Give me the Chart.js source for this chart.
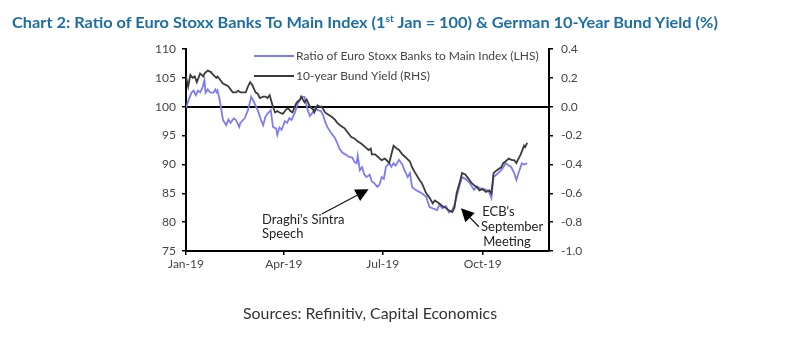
<!DOCTYPE html>
<html>
<head>
<meta charset="utf-8">
<script src="https://cdn.jsdelivr.net/npm/chart.js@4/dist/chart.umd.min.js"></script>
<style>
  html, body { margin: 0; padding: 0; background: #fff; width: 792px; height: 339px; overflow: hidden; }
  #wrap { position: absolute; left: 0; top: 0; width: 792px; height: 339px; }
  #title { position: absolute; left: 12px; top: 12px; font-family: Lato, "Open Sans", sans-serif; font-weight: 700;
           font-size: 16px; line-height: 20px; color: #1d6fa3; white-space: nowrap; transform-origin: 0 0; }
  #title sup { font-size: 10px; line-height: 0; vertical-align: 6px; }
  #src { position: absolute; left: 243px; top: 303px; font-family: Lato, "Open Sans", sans-serif; font-size: 15px;
         line-height: 20px; color: #333; white-space: nowrap; transform-origin: 0 0; }
</style>
</head>
<body>
<div id="wrap"><canvas id="c" width="792" height="339"></canvas></div>
<div id="title">Chart 2: Ratio of Euro Stoxx Banks To Main Index (1<sup>st</sup> Jan = 100) &amp; German 10-Year Bund Yield (%)</div>
<div id="src">Sources: Refinitiv, Capital Economics</div>
<script>
// Days since 1 Jan 2019 and the ratio of Euro Stoxx Banks to the main index (1st Jan = 100)
const bankDays = [0,3,5,7,9,11,13,15,17,18,20,22,25,27,28,29,31,34,37,39,41,44,46,49,50,54,57,60,61,63,66,69,71,73,75,78,80,83,84,86,88,91,93,95,97,100,103,105,106,109,112,114,117,119,121,124,126,128,130,133,137,139,141,144,147,150,153,155,157,158,160,162,164,166,169,171,173,176,178,180,182,184,187,189,191,193,196,199,201,204,206,208,211,215,217,221,224,227,231,233,236,239,242,245,247,249,252,254,257,261,263,265,268,270,273,276,279,281,283,286,290,292,294,297,299,302,304,306,309,311,314];
const bankRatio = [99.8,101.5,102.4,102.8,102,102.8,102.5,103.2,104.6,102.4,103,102.5,102.4,103,102.5,102.8,101.2,97.7,96.8,97.8,97.2,98,97.7,96.5,97.2,98,99.4,101.7,101.4,100.6,99.4,97.7,96.8,98.2,98.8,99.4,96.5,96.2,95.1,96.4,96,97.5,97.2,98,97.7,98.9,100.6,101.2,101.7,101.7,99.4,98.4,99.1,99.8,99.4,99.3,98.6,97.4,96.5,95.6,94.6,93.8,92.8,92,91.7,91.3,91.2,90.4,90.2,91.5,89,89.5,88.3,87.8,88.2,87,86.8,86.1,86.5,87.8,87.5,89.6,90.2,89.6,90.2,89.8,90.8,90,89,87.8,88.5,86.1,85.6,85.2,85,84.4,82.6,82.4,82.1,83,82.4,82.8,81.7,82.1,83,84.4,86.5,87.8,87.5,86.8,86.2,85.6,86.2,85.9,85.8,85.6,85.2,84.2,87.8,88.3,89,89.5,90.2,89.8,89.6,88.5,87.3,88.5,90.2,90,90.2];

// Days since 1 Jan 2019 and the German 10-year Bund yield (%)
const bundDays = [0,2,4,6,8,10,13,16,17,20,23,25,28,29,31,34,37,39,41,43,46,48,50,53,55,57,59,61,64,66,68,71,73,75,77,80,82,84,86,89,92,94,96,98,100,102,105,106,109,111,114,117,118,121,123,125,128,130,134,137,139,142,146,149,152,155,158,160,162,165,168,170,171,174,177,180,183,187,189,191,194,196,199,202,206,208,211,215,217,221,224,227,229,233,236,239,242,245,247,249,252,254,257,259,262,263,266,268,270,273,276,279,281,283,286,290,292,294,297,300,302,304,306,308,311,312,314];
const bundYield = [0.21,0.14,0.22,0.20,0.21,0.17,0.23,0.21,0.23,0.25,0.24,0.22,0.20,0.21,0.19,0.16,0.15,0.14,0.12,0.10,0.10,0.11,0.10,0.10,0.10,0.14,0.17,0.15,0.10,0.09,0.06,0.07,0.07,0.06,0.08,0.0,-0.04,-0.03,-0.04,-0.05,-0.02,-0.01,-0.03,-0.04,0.0,0.03,0.05,0.07,0.03,0.05,0.0,-0.02,-0.04,0.01,0.0,0.0,-0.04,-0.05,-0.07,-0.09,-0.11,-0.13,-0.15,-0.18,-0.21,-0.22,-0.24,-0.25,-0.26,-0.28,-0.30,-0.29,-0.33,-0.33,-0.35,-0.37,-0.36,-0.39,-0.33,-0.27,-0.29,-0.30,-0.33,-0.35,-0.38,-0.42,-0.46,-0.51,-0.53,-0.60,-0.63,-0.67,-0.65,-0.67,-0.69,-0.70,-0.72,-0.73,-0.70,-0.60,-0.52,-0.46,-0.47,-0.49,-0.52,-0.53,-0.55,-0.56,-0.58,-0.57,-0.59,-0.58,-0.60,-0.46,-0.44,-0.42,-0.39,-0.38,-0.36,-0.37,-0.37,-0.39,-0.36,-0.33,-0.27,-0.28,-0.25];

// Axis ticks
const monthTicks = [0, 90, 181, 273];
const monthLabels = ['Jan-19', 'Apr-19', 'Jul-19', 'Oct-19'];
const leftTicks = [75, 80, 85, 90, 95, 100, 105, 110];
const rightTicks = [-1.0, -0.8, -0.6, -0.4, -0.2, 0.0, 0.2, 0.4];

const seriesNames = ['Ratio of Euro Stoxx Banks to Main Index (LHS)', '10-year Bund Yield (RHS)'];
const BLUE = '#7d7cf2';
const DARK = '#3b3b3b';
const FONT = 'Lato, "Open Sans", sans-serif';

// Fit the title and source lines to their measured widths
function fitWidth(id, w) {
  const el = document.getElementById(id);
  el.style.transform = 'scaleX(' + (w / el.getBoundingClientRect().width) + ')';
}
fitWidth('title', 706);
fitWidth('src', 254);

const toPoints = (xs, ys) => xs.map((x, i) => ({ x: x, y: ys[i] }));

// Zero line, legend and call-out annotations
const extras = {
  id: 'extras',
  beforeDatasetsDraw(chart) {
    const { ctx, chartArea: a, scales } = chart;
    const y = Math.round(scales.yL.getPixelForValue(100));
    ctx.save();
    ctx.strokeStyle = '#000';
    ctx.lineWidth = 2;
    ctx.beginPath(); ctx.moveTo(a.left, y); ctx.lineTo(a.right, y); ctx.stroke();
    ctx.restore();
  },
  afterDraw(chart) {
    const { ctx, chartArea: a, scales } = chart;
    const X = v => scales.x.getPixelForValue(v);
    const Y = v => scales.yL.getPixelForValue(v);
    ctx.save();
    // legend
    const lx = a.left + 68;
    [[BLUE, seriesNames[0], a.top + 7], [DARK, seriesNames[1], a.top + 27]].forEach(([col, txt, ly]) => {
      ctx.strokeStyle = col; ctx.lineWidth = 2;
      ctx.beginPath(); ctx.moveTo(lx, ly); ctx.lineTo(lx + 40, ly); ctx.stroke();
      ctx.fillStyle = '#444'; ctx.font = '12px ' + FONT; ctx.textBaseline = 'middle'; ctx.textAlign = 'left';
      ctx.fillText(txt, lx + 42, ly);
    });
    // call-outs
    ctx.fillStyle = '#222'; ctx.font = '13px ' + FONT; ctx.textBaseline = 'middle';
    ctx.fillText("Draghi's Sintra", X(70), Y(80.4));
    ctx.fillText('Speech', X(70), Y(77.9));
    ctx.fillText("ECB's", X(272.5), Y(81.75));
    ctx.fillText('September', X(271.5), Y(79.15));
    ctx.fillText('Meeting', X(273.5), Y(76.55));
    const arrow = (x0, y0, x1, y1) => {
      const ang = Math.atan2(y1 - y0, x1 - x0), L = 13, W = 6.5;
      const bx = x1 - L * Math.cos(ang), by = y1 - L * Math.sin(ang);
      ctx.strokeStyle = '#111'; ctx.lineWidth = 1.2;
      ctx.beginPath(); ctx.moveTo(x0, y0); ctx.lineTo(bx, by); ctx.stroke();
      ctx.fillStyle = '#000';
      ctx.beginPath();
      ctx.moveTo(x1, y1);
      ctx.lineTo(bx + W * Math.sin(ang), by - W * Math.cos(ang));
      ctx.lineTo(bx - W * Math.sin(ang), by + W * Math.cos(ang));
      ctx.closePath(); ctx.fill();
    };
    arrow(X(125), Y(81.4), X(168), Y(85.7));
    arrow(X(269.5), Y(79.2), X(253), Y(82.4));
    ctx.restore();
  }
};

const axisGrid = { display: true, drawOnChartArea: false, drawTicks: true, tickLength: 4, color: '#000', lineWidth: 1.5 };
const axisBorder = { display: true, color: '#000', width: 2 };
const tickFont = { family: FONT, size: 12 };

new Chart(document.getElementById('c'), {
  type: 'line',
  data: {
    datasets: [
      { label: seriesNames[0], data: toPoints(bankDays, bankRatio), yAxisID: 'yL', borderColor: BLUE, borderWidth: 1.8,
        pointRadius: 0, tension: 0, order: 2 },
      { label: seriesNames[1], data: toPoints(bundDays, bundYield), yAxisID: 'yR', borderColor: DARK, borderWidth: 1.8,
        pointRadius: 0, tension: 0, order: 1 }
    ]
  },
  options: {
    responsive: false,
    animation: false,
    events: [],
    layout: { padding: { top: 49, left: 0, right: 0, bottom: 0 } },
    plugins: { legend: { display: false }, tooltip: { enabled: false }, title: { display: false } },
    scales: {
      x: {
        type: 'linear', min: 0, max: 334, position: 'bottom',
        afterBuildTicks: s => { s.ticks = monthTicks.map(v => ({ value: v })); },
        afterFit: s => { s.height = 88; },
        ticks: { autoSkip: false, maxRotation: 0, padding: 2, color: '#444', font: tickFont,
                 callback: v => monthLabels[monthTicks.indexOf(v)] },
        grid: axisGrid, border: axisBorder
      },
      yL: {
        type: 'linear', position: 'left', min: 75, max: 110,
        afterBuildTicks: s => { s.ticks = leftTicks.map(v => ({ value: v })); },
        afterFit: s => { s.width = 186; },
        ticks: { padding: 6, color: '#444', font: tickFont },
        grid: axisGrid, border: axisBorder
      },
      yR: {
        type: 'linear', position: 'right', min: -1.0, max: 0.4,
        afterBuildTicks: s => { s.ticks = rightTicks.map(v => ({ value: v })); },
        afterFit: s => { s.width = 243; },
        ticks: { padding: 8, color: '#444', font: tickFont,
                 callback: v => (Math.abs(v) < 1e-9 ? 0 : v).toFixed(1) },
        grid: axisGrid, border: axisBorder
      }
    }
  },
  plugins: [extras]
});
</script>
</body>
</html>
